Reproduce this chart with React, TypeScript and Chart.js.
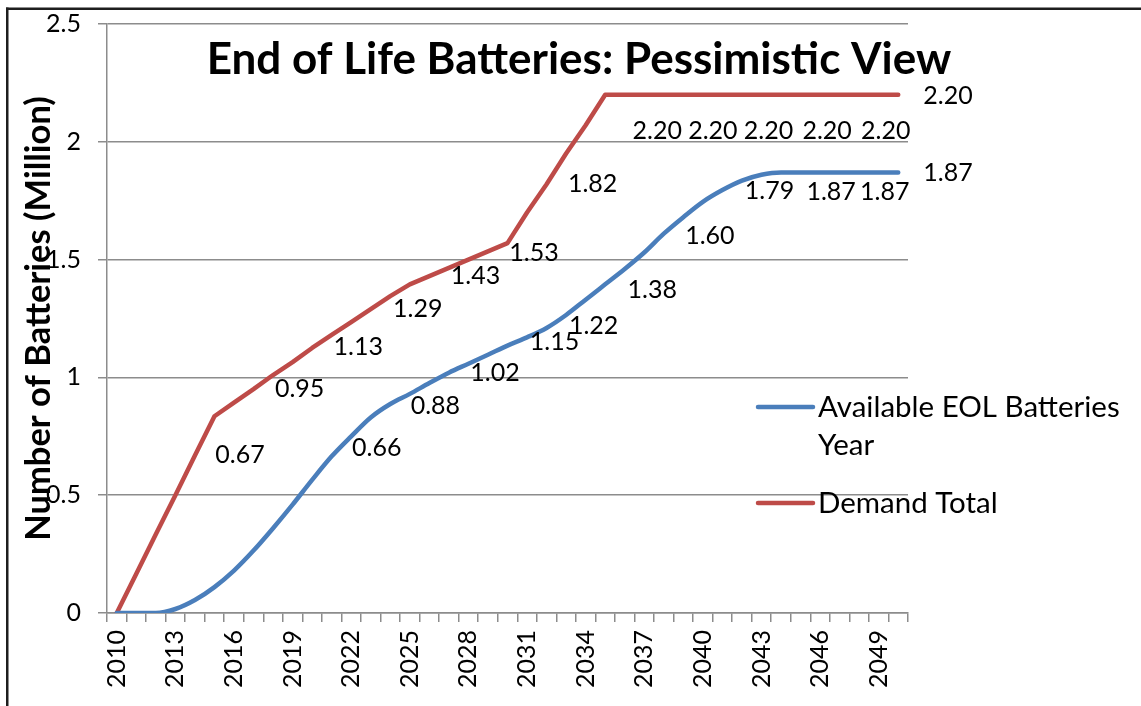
import React, { useEffect, useRef } from "react";
import { Chart, registerables } from "chart.js";

Chart.register(...registerables);

const years = [
  "2010", "2011", "2012", "2013", "2014", "2015", "2016", "2017", "2018", "2019",
  "2020", "2021", "2022", "2023", "2024", "2025", "2026", "2027", "2028", "2029",
  "2030", "2031", "2032", "2033", "2034", "2035", "2036", "2037", "2038", "2039",
  "2040", "2041", "2042", "2043", "2044", "2045", "2046", "2047", "2048", "2049",
  "2050",
];

const availableEol = [
  0, 0, 0, 0.017, 0.055, 0.11, 0.18, 0.265, 0.36, 0.46,
  0.565, 0.665, 0.75, 0.83, 0.887, 0.93, 0.976, 1.02, 1.058, 1.096,
  1.135, 1.17, 1.21, 1.265, 1.33, 1.395, 1.46, 1.53, 1.61, 1.68,
  1.745, 1.795, 1.835, 1.86, 1.87, 1.87, 1.87, 1.87, 1.87, 1.87,
  1.87,
];

const demandTotal = [
  0, 0.167, 0.334, 0.5, 0.668, 0.835, 0.893, 0.95, 1.01, 1.065,
  1.125, 1.18, 1.235, 1.29, 1.345, 1.395, 1.43, 1.465, 1.5, 1.535,
  1.57, 1.7, 1.82, 1.95, 2.07, 2.2, 2.2, 2.2, 2.2, 2.2,
  2.2, 2.2, 2.2, 2.2, 2.2, 2.2, 2.2, 2.2, 2.2, 2.2,
  2.2,
];

const demandLabelYears = [2016, 2019, 2022, 2025, 2028, 2031, 2034, 2037, 2040, 2043, 2046, 2049];
const demandLabelTexts = ["0.67", "0.95", "1.13", "1.29", "1.43", "1.53", "1.82", "2.20", "2.20", "2.20", "2.20", "2.20"];
const eolLabelYears = [2023, 2026, 2029, 2032, 2034, 2037, 2040, 2043, 2046, 2049];
const eolLabelTexts = ["0.66", "0.88", "1.02", "1.15", "1.22", "1.38", "1.60", "1.79", "1.87", "1.87"];

const yTickValues = [0, 0.5, 1, 1.5, 2, 2.5];

const TITLE = "End of Life Batteries: Pessimistic View";
const Y_TITLE = "Number of Batteries (Million)";
const EOL_NAME = "Available EOL Batteries Year";
const DEMAND_NAME = "Demand Total";

// pixel nudges (style only)
const NUDGES = {
  demandDx: [6, 7, 7, 8, 7, 7, 7, 13, 10, 7, 7, 7],
  demandDy: [0, 0, 0, 0, 0, 0, 0, 36, 36, 36, 36, 36],
  eolDx: [6, 6, 7, 8, 8, 8, 7, 8, 11, 6],
  eolDy: [-10, 0, 0, 0, 0, 2, 0, 0, 20, 20],
};

const FONT = "Lato, 'Open Sans', sans-serif";
const BLUE = "#4A7EBB";
const RED = "#BE4B48";
const GRID = "#8c8c8c";

const framePlugin = {
  id: "frame",
  beforeDraw(chart: any) {
    const ctx = chart.ctx;
    ctx.save();
    ctx.fillStyle = "#ffffff";
    ctx.fillRect(0, 0, chart.width, chart.height);
    ctx.fillStyle = "#1e1e1e";
    ctx.fillRect(6, 7.5, chart.width, 2.5);
    ctx.fillRect(6, 7.5, 2.5, chart.height);
    ctx.restore();
  },
};

const overlayPlugin = {
  id: "overlay",
  afterDatasetsDraw(chart: any) {
    const { ctx } = chart;
    const xs = chart.scales.x;
    const ys = chart.scales.y;
    const px = (year: number) => xs.getPixelForValue(years.indexOf(String(year)));

    ctx.save();
    // title
    ctx.fillStyle = "#000";
    ctx.font = `bold 44px ${FONT}`;
    ctx.textAlign = "center";
    ctx.textBaseline = "middle";
    ctx.fillText(TITLE, 579, 60);

    // data labels
    ctx.font = `25px ${FONT}`;
    ctx.textAlign = "center";
    ctx.textBaseline = "middle";
    demandLabelYears.forEach((yr, i) => {
      const t = demandLabelTexts[i];
      ctx.fillText(t, px(yr) + NUDGES.demandDx[i], ys.getPixelForValue(parseFloat(t)) + NUDGES.demandDy[i]);
    });
    eolLabelYears.forEach((yr, i) => {
      const t = eolLabelTexts[i];
      ctx.fillText(t, px(yr) + NUDGES.eolDx[i], ys.getPixelForValue(parseFloat(t)) + NUDGES.eolDy[i]);
    });

    // end labels
    ctx.textAlign = "left";
    chart.data.datasets.forEach((ds: any) => {
      const last = ds.data.length - 1;
      const v = ds.data[last];
      ctx.fillText(v.toFixed(2), xs.getPixelForValue(last) + 25, ys.getPixelForValue(v) + 1);
    });

    // legend
    ctx.font = `29.5px ${FONT}`;
    ctx.textBaseline = "middle";
    const legendX = 758;
    const sampleW = 55;
    const textX = 818;
    const maxW = 305;
    const lineH = 38;
    let yPos = 407;
    chart.data.datasets.forEach((ds: any) => {
      const words = String(ds.label).split(" ");
      const lines: string[] = [];
      let cur = "";
      words.forEach((w) => {
        const test = cur ? cur + " " + w : w;
        if (ctx.measureText(test).width > maxW && cur) {
          lines.push(cur);
          cur = w;
        } else cur = test;
      });
      if (cur) lines.push(cur);
      ctx.strokeStyle = ds.borderColor;
      ctx.lineWidth = ds.borderWidth;
      ctx.lineCap = "round";
      ctx.beginPath();
      ctx.moveTo(legendX, yPos);
      ctx.lineTo(legendX + sampleW, yPos);
      ctx.stroke();
      ctx.fillStyle = "#000";
      lines.forEach((ln, k) => ctx.fillText(ln, textX, yPos + k * lineH));
      yPos += lines.length * lineH + 20;
    });
    ctx.restore();
  },
};

export default function App() {
  const ref = useRef<HTMLCanvasElement | null>(null);

  useEffect(() => {
    if (!ref.current) return;
    const chart = new Chart(ref.current, {
      type: "line",
      data: {
        labels: years,
        datasets: [
          {
            label: EOL_NAME,
            data: availableEol,
            borderColor: BLUE,
            backgroundColor: BLUE,
            borderWidth: 4.5,
            pointRadius: 0,
            cubicInterpolationMode: "monotone",
            borderCapStyle: "round",
            borderJoinStyle: "round",
          },
          {
            label: DEMAND_NAME,
            data: demandTotal,
            borderColor: RED,
            backgroundColor: RED,
            borderWidth: 4.5,
            pointRadius: 0,
            tension: 0,
            borderCapStyle: "round",
            borderJoinStyle: "round",
          },
        ],
      },
      options: {
        responsive: false,
        animation: false,
        events: [],
        layout: { padding: { left: 0, top: 24, right: 233, bottom: 0 } },
        plugins: {
          legend: { display: false },
          title: { display: false },
          tooltip: { enabled: false },
        },
        scales: {
          x: {
            type: "category",
            offset: true,
            grid: {
              display: true,
              offset: true,
              drawOnChartArea: false,
              drawTicks: true,
              tickLength: 9,
              color: GRID,
              lineWidth: 1.5,
            },
            border: { display: true, color: GRID, width: 1.5 },
            ticks: {
              autoSkip: false,
              maxRotation: 90,
              minRotation: 90,
              padding: 8,
              color: "#000",
              font: { family: FONT, size: 25 },
              callback: (_v: any, i: number) => (i % 3 === 0 ? years[i] : ""),
            },
            afterFit: (s: any) => {
              s.height = 93;
              s.paddingLeft = 0;
              s.paddingRight = 0;
            },
          },
          y: {
            min: 0,
            max: 2.5,
            afterBuildTicks: (s: any) => {
              s.ticks = yTickValues.map((v) => ({ value: v }));
            },
            grid: {
              color: GRID,
              lineWidth: 1.5,
              drawTicks: true,
              tickLength: 9,
            },
            border: { display: true, color: GRID, width: 1.5 },
            ticks: {
              padding: 17,
              color: "#000",
              font: { family: FONT, size: 25 },
              callback: (v: any) => String(v),
            },
            title: {
              display: true,
              text: Y_TITLE,
              color: "#000",
              font: { family: FONT, size: 34.5, weight: "bold" },
              padding: { top: 18, bottom: 0 },
            },
            afterFit: (s: any) => {
              s.width = 107;
              s.paddingTop = 0;
              s.paddingBottom = 0;
            },
          },
        },
      },
      plugins: [framePlugin, overlayPlugin],
    } as any);
    return () => chart.destroy();
  }, []);

  return (
    <div style={{ position: "absolute", left: 0, top: 0, width: 1141, height: 706 }}>
      <canvas ref={ref} width={1141} height={706} style={{ display: "block" }} />
    </div>
  );
}
